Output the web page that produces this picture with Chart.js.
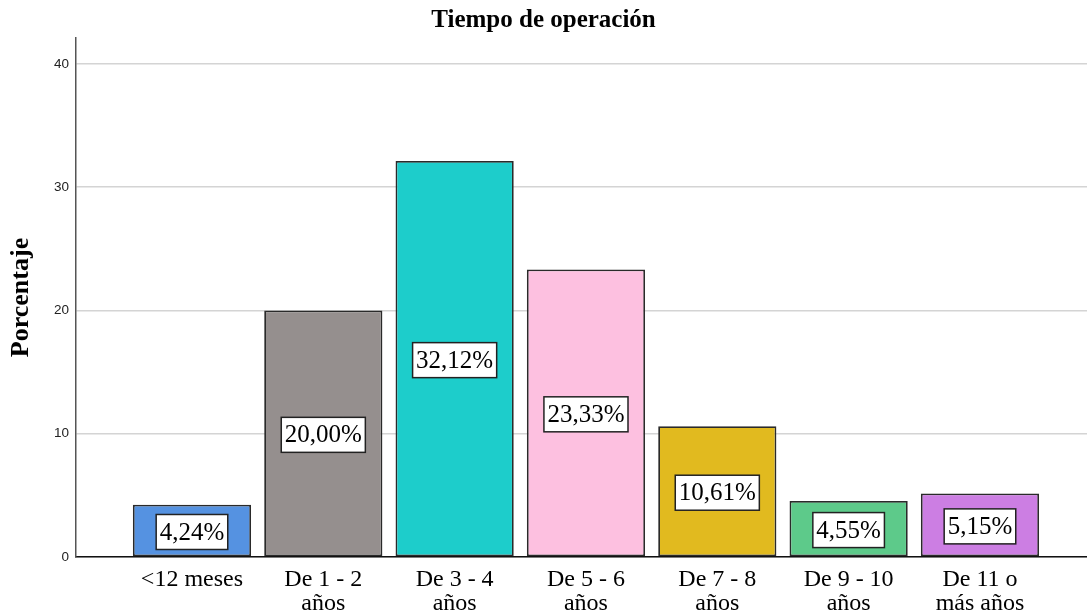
<!DOCTYPE html>
<html>
<head>
<meta charset="utf-8">
<script src="https://cdn.jsdelivr.net/npm/chart.js@4.4.1/dist/chart.umd.min.js"></script>
<style>
  html, body { margin: 0; padding: 0; background: #fff; }
  #wrap { width: 1087px; height: 616px; }
</style>
</head>
<body>
<div id="wrap"><canvas id="tiempoChart"></canvas></div>
<script>
// datos
const categorias = [
  ['<12 meses'],
  ['De 1 - 2', 'años'],
  ['De 3 - 4', 'años'],
  ['De 5 - 6', 'años'],
  ['De 7 - 8', 'años'],
  ['De 9 - 10', 'años'],
  ['De 11 o', 'más años']
];
const porcentajes = [4.24, 20.00, 32.12, 23.33, 10.61, 4.55, 5.15];
const ticksY = [0, 10, 20, 30, 40];
const colores = ['#5592e1', '#958f8e', '#1dcdcb', '#fdc0e0', '#e1ba1f', '#5dca8a', '#cc7ee3'];

const serif = '"Liberation Serif", "Times New Roman", serif';

// cajitas blancas con el porcentaje en medio de cada barra
const cajasValor = {
  id: 'cajasValor',
  afterDatasetsDraw(chart) {
    const ctx = chart.ctx;
    const meta = chart.getDatasetMeta(0);
    ctx.save();
    ctx.font = '25px ' + serif;
    ctx.textAlign = 'center';
    ctx.textBaseline = 'middle';
    meta.data.forEach((bar, i) => {
      const txt = porcentajes[i].toFixed(2).replace('.', ',') + '%';
      const w = ctx.measureText(txt).width + 7;
      const h = 35;
      const cx = bar.x;
      const cy = (bar.y + bar.base) / 2 + 1.5;
      ctx.fillStyle = '#fff';
      ctx.fillRect(cx - w / 2, cy - h / 2, w, h);
      ctx.strokeStyle = '#222';
      ctx.lineWidth = 1.5;
      ctx.strokeRect(cx - w / 2, cy - h / 2, w, h);
      ctx.fillStyle = '#000';
      ctx.fillText(txt, cx, cy + 1);
    });
    ctx.restore();
  }
};

const ctx = document.getElementById('tiempoChart').getContext('2d');
new Chart(ctx, {
  type: 'bar',
  data: {
    datasets: [{
      data: porcentajes.map((v, i) => ({ x: i, y: v })),
      backgroundColor: colores,
      borderColor: '#2a2a2a',
      borderWidth: 1.8,
      borderSkipped: false,
      categoryPercentage: 1,
      barPercentage: 0.9
    }]
  },
  options: {
    responsive: true,
    maintainAspectRatio: false,
    animation: false,
    layout: { padding: 0 },
    scales: {
      x: {
        type: 'linear',
        offset: false,
        min: -0.883,
        max: 6.815,
        afterBuildTicks: s => { s.ticks = categorias.map((c, i) => ({ value: i })); },
        afterFit: s => { s.height = 59; },
        grid: { display: false, drawTicks: false },
        border: { display: true, color: '#111', width: 1.5 },
        ticks: {
          autoSkip: false,
          maxRotation: 0,
          padding: 11,
          color: '#000',
          font: { family: serif, size: 24, lineHeight: 1.0 },
          callback: v => categorias[v] || ''
        }
      },
      y: {
        min: 0,
        max: 42.1,
        afterBuildTicks: s => { s.ticks = ticksY.map(v => ({ value: v })); },
        afterFit: s => { s.width = 76; },
        grid: { color: '#d4d4d4', lineWidth: 1.5, drawTicks: false },
        border: { display: true, color: '#555', width: 1.5 },
        ticks: {
          padding: 7,
          color: '#222',
          font: { family: '"Liberation Sans", Arial, sans-serif', size: 13.5 }
        },
        title: {
          display: true,
          text: 'Porcentaje',
          color: '#000',
          padding: { top: 6, bottom: 0 },
          font: { family: serif, size: 26, weight: 'bold' }
        }
      }
    },
    plugins: {
      legend: { display: false },
      tooltip: { enabled: false },
      title: {
        display: true,
        text: 'Tiempo de operación',
        color: '#000',
        padding: { top: 6, bottom: 2 },
        font: { family: serif, size: 25, weight: 'bold' }
      }
    }
  },
  plugins: [cajasValor]
});
</script>
</body>
</html>
